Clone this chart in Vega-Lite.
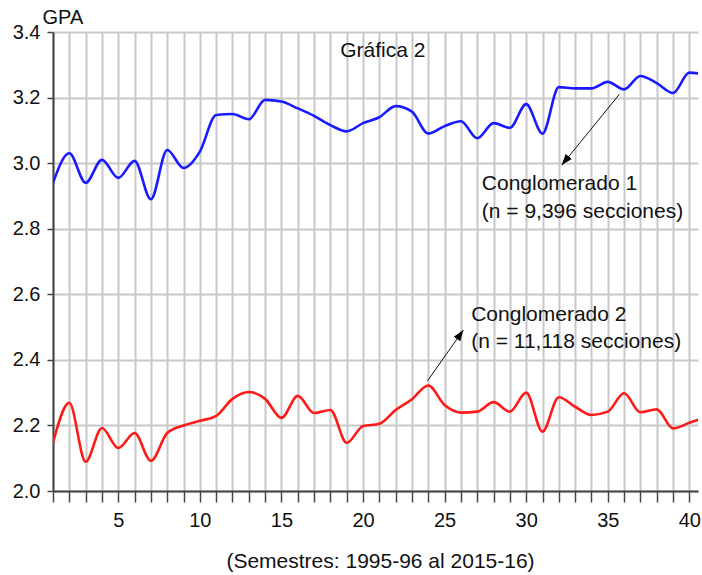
{
  "$schema": "https://vega.github.io/schema/vega-lite/v6.json",
  "width": 645,
  "height": 459,
  "autosize": {"type": "none"},
  "padding": {"left": 53, "top": 32, "right": 4, "bottom": 84},
  "background": "white",
  "config": {"font": "Liberation Sans", "view": {"stroke": null}},
  "datasets": {
    "gpa": [
      {"semestre": 1, "gpa": 2.94, "grupo": "Conglomerado 1"},
      {"semestre": 2, "gpa": 3.03, "grupo": "Conglomerado 1"},
      {"semestre": 3, "gpa": 2.94, "grupo": "Conglomerado 1"},
      {"semestre": 4, "gpa": 3.01, "grupo": "Conglomerado 1"},
      {"semestre": 5, "gpa": 2.955, "grupo": "Conglomerado 1"},
      {"semestre": 6, "gpa": 3.007, "grupo": "Conglomerado 1"},
      {"semestre": 7, "gpa": 2.89, "grupo": "Conglomerado 1"},
      {"semestre": 8, "gpa": 3.04, "grupo": "Conglomerado 1"},
      {"semestre": 9, "gpa": 2.985, "grupo": "Conglomerado 1"},
      {"semestre": 10, "gpa": 3.035, "grupo": "Conglomerado 1"},
      {"semestre": 11, "gpa": 3.147, "grupo": "Conglomerado 1"},
      {"semestre": 12, "gpa": 3.15, "grupo": "Conglomerado 1"},
      {"semestre": 13, "gpa": 3.134, "grupo": "Conglomerado 1"},
      {"semestre": 14, "gpa": 3.193, "grupo": "Conglomerado 1"},
      {"semestre": 15, "gpa": 3.188, "grupo": "Conglomerado 1"},
      {"semestre": 16, "gpa": 3.167, "grupo": "Conglomerado 1"},
      {"semestre": 17, "gpa": 3.144, "grupo": "Conglomerado 1"},
      {"semestre": 18, "gpa": 3.116, "grupo": "Conglomerado 1"},
      {"semestre": 19, "gpa": 3.097, "grupo": "Conglomerado 1"},
      {"semestre": 20, "gpa": 3.122, "grupo": "Conglomerado 1"},
      {"semestre": 21, "gpa": 3.14, "grupo": "Conglomerado 1"},
      {"semestre": 22, "gpa": 3.174, "grupo": "Conglomerado 1"},
      {"semestre": 23, "gpa": 3.157, "grupo": "Conglomerado 1"},
      {"semestre": 24, "gpa": 3.09, "grupo": "Conglomerado 1"},
      {"semestre": 25, "gpa": 3.113, "grupo": "Conglomerado 1"},
      {"semestre": 26, "gpa": 3.128, "grupo": "Conglomerado 1"},
      {"semestre": 27, "gpa": 3.076, "grupo": "Conglomerado 1"},
      {"semestre": 28, "gpa": 3.122, "grupo": "Conglomerado 1"},
      {"semestre": 29, "gpa": 3.108, "grupo": "Conglomerado 1"},
      {"semestre": 30, "gpa": 3.18, "grupo": "Conglomerado 1"},
      {"semestre": 31, "gpa": 3.09, "grupo": "Conglomerado 1"},
      {"semestre": 32, "gpa": 3.232, "grupo": "Conglomerado 1"},
      {"semestre": 33, "gpa": 3.228, "grupo": "Conglomerado 1"},
      {"semestre": 34, "gpa": 3.228, "grupo": "Conglomerado 1"},
      {"semestre": 35, "gpa": 3.248, "grupo": "Conglomerado 1"},
      {"semestre": 36, "gpa": 3.225, "grupo": "Conglomerado 1"},
      {"semestre": 37, "gpa": 3.266, "grupo": "Conglomerado 1"},
      {"semestre": 38, "gpa": 3.244, "grupo": "Conglomerado 1"},
      {"semestre": 39, "gpa": 3.214, "grupo": "Conglomerado 1"},
      {"semestre": 40, "gpa": 3.276, "grupo": "Conglomerado 1"},
      {"semestre": 41, "gpa": 3.27, "grupo": "Conglomerado 1"},
      {"semestre": 1, "gpa": 2.147, "grupo": "Conglomerado 2"},
      {"semestre": 2, "gpa": 2.269, "grupo": "Conglomerado 2"},
      {"semestre": 3, "gpa": 2.089, "grupo": "Conglomerado 2"},
      {"semestre": 4, "gpa": 2.192, "grupo": "Conglomerado 2"},
      {"semestre": 5, "gpa": 2.131, "grupo": "Conglomerado 2"},
      {"semestre": 6, "gpa": 2.177, "grupo": "Conglomerado 2"},
      {"semestre": 7, "gpa": 2.092, "grupo": "Conglomerado 2"},
      {"semestre": 8, "gpa": 2.177, "grupo": "Conglomerado 2"},
      {"semestre": 9, "gpa": 2.2, "grupo": "Conglomerado 2"},
      {"semestre": 10, "gpa": 2.214, "grupo": "Conglomerado 2"},
      {"semestre": 11, "gpa": 2.229, "grupo": "Conglomerado 2"},
      {"semestre": 12, "gpa": 2.281, "grupo": "Conglomerado 2"},
      {"semestre": 13, "gpa": 2.302, "grupo": "Conglomerado 2"},
      {"semestre": 14, "gpa": 2.281, "grupo": "Conglomerado 2"},
      {"semestre": 15, "gpa": 2.223, "grupo": "Conglomerado 2"},
      {"semestre": 16, "gpa": 2.29, "grupo": "Conglomerado 2"},
      {"semestre": 17, "gpa": 2.238, "grupo": "Conglomerado 2"},
      {"semestre": 18, "gpa": 2.247, "grupo": "Conglomerado 2"},
      {"semestre": 19, "gpa": 2.147, "grupo": "Conglomerado 2"},
      {"semestre": 20, "gpa": 2.198, "grupo": "Conglomerado 2"},
      {"semestre": 21, "gpa": 2.205, "grupo": "Conglomerado 2"},
      {"semestre": 22, "gpa": 2.247, "grupo": "Conglomerado 2"},
      {"semestre": 23, "gpa": 2.28, "grupo": "Conglomerado 2"},
      {"semestre": 24, "gpa": 2.322, "grupo": "Conglomerado 2"},
      {"semestre": 25, "gpa": 2.262, "grupo": "Conglomerado 2"},
      {"semestre": 26, "gpa": 2.239, "grupo": "Conglomerado 2"},
      {"semestre": 27, "gpa": 2.242, "grupo": "Conglomerado 2"},
      {"semestre": 28, "gpa": 2.271, "grupo": "Conglomerado 2"},
      {"semestre": 29, "gpa": 2.242, "grupo": "Conglomerado 2"},
      {"semestre": 30, "gpa": 2.3, "grupo": "Conglomerado 2"},
      {"semestre": 31, "gpa": 2.181, "grupo": "Conglomerado 2"},
      {"semestre": 32, "gpa": 2.286, "grupo": "Conglomerado 2"},
      {"semestre": 33, "gpa": 2.257, "grupo": "Conglomerado 2"},
      {"semestre": 34, "gpa": 2.232, "grupo": "Conglomerado 2"},
      {"semestre": 35, "gpa": 2.242, "grupo": "Conglomerado 2"},
      {"semestre": 36, "gpa": 2.298, "grupo": "Conglomerado 2"},
      {"semestre": 37, "gpa": 2.24, "grupo": "Conglomerado 2"},
      {"semestre": 38, "gpa": 2.249, "grupo": "Conglomerado 2"},
      {"semestre": 39, "gpa": 2.191, "grupo": "Conglomerado 2"},
      {"semestre": 40, "gpa": 2.208, "grupo": "Conglomerado 2"},
      {"semestre": 41, "gpa": 2.225, "grupo": "Conglomerado 2"}
    ],
    "etiquetas": [
      {"x": 18.6, "y": 3.324, "texto": "Gráfica 2"},
      {"x": 27.28, "y": 2.918, "texto": "Conglomerado 1"},
      {"x": 27.28, "y": 2.833, "texto": "(n = 9,396 secciones)"},
      {"x": 26.63, "y": 2.52, "texto": "Conglomerado 2"},
      {"x": 26.63, "y": 2.436, "texto": "(n = 11,118 secciones)"}
    ],
    "flechas": [
      {"id": 1, "x0": 35.71, "y0": 3.21, "x1": 32.18, "y1": 2.994},
      {"id": 2, "x0": 23.95, "y0": 2.336, "x1": 26.15, "y1": 2.491}
    ]
  },
  "layer": [
    {
      "data": {"name": "gpa"},
      "mark": {"type": "line", "interpolate": "monotone", "strokeWidth": 2.6, "clip": true},
      "encoding": {
        "x": {
          "field": "semestre", "type": "quantitative",
          "scale": {"domain": [1, 40.53], "nice": false, "zero": false},
          "axis": {
            "values": [1,2,3,4,5,6,7,8,9,10,11,12,13,14,15,16,17,18,19,20,21,22,23,24,25,26,27,28,29,30,31,32,33,34,35,36,37,38,39,40],
            "tickCount": 200,
            "format": "d",
            "labelExpr": "datum.value % 5 === 0 ? datum.label : ''",
            "grid": true, "gridColor": "#c8c8c8", "gridWidth": 2,
            "domainColor": "#444444", "domainWidth": 2,
            "tickColor": "#444444", "tickWidth": 1.5, "tickSize": 11,
            "labelFontSize": 20, "labelColor": "#111111", "labelPadding": 8,
            "labelFlush": false, "labelBound": false, "labelOverlap": false,
            "encode": {"ticks": {"update": {"y2": {"signal": "datum.value % 5 === 0 ? 11 : 6"}}}},
            "title": "(Semestres: 1995-96 al 2015-16)",
            "titleFontSize": 21, "titleFontWeight": "normal", "titleColor": "#111111",
            "titleX": 327, "titleY": 76, "titleAlign": "center", "titleBaseline": "alphabetic"
          }
        },
        "y": {
          "field": "gpa", "type": "quantitative",
          "scale": {"domain": [2.0, 3.4], "nice": false, "zero": false},
          "axis": {
            "values": [2.0, 2.2, 2.4, 2.6, 2.8, 3.0, 3.2, 3.4],
            "tickCount": 50,
            "format": ".1f",
            "grid": true, "gridColor": "#c8c8c8", "gridWidth": 2,
            "encode": {"grid": {"update": {"strokeOpacity": {"signal": "datum.value > 3.39 ? 0 : 1"}}}},
            "domainColor": "#444444", "domainWidth": 2,
            "tickColor": "#444444", "tickWidth": 1.5, "tickSize": 6,
            "labelFontSize": 20, "labelColor": "#111111", "labelPadding": 7,
            "labelFlush": false, "labelBound": false,
            "title": "GPA", "titleAngle": 0, "titleX": -11, "titleY": -9,
            "titleAlign": "left", "titleBaseline": "alphabetic",
            "titleFontSize": 20, "titleFontWeight": "normal", "titleColor": "#111111"
          }
        },
        "color": {
          "field": "grupo", "type": "nominal",
          "scale": {"domain": ["Conglomerado 1", "Conglomerado 2"], "range": ["#1a1aff", "#ff1a1a"]},
          "legend": null
        }
      }
    },
    {
      "data": {"name": "flechas"},
      "mark": {"type": "rule", "color": "#111111", "strokeWidth": 1},
      "encoding": {
        "x": {"field": "x0", "type": "quantitative"},
        "y": {"field": "y0", "type": "quantitative"},
        "x2": {"field": "x1"},
        "y2": {"field": "y1"}
      }
    },
    {
      "data": {"name": "flechas"},
      "transform": [{"filter": "datum.id === 1"}],
      "mark": {"type": "point", "shape": "M0,0L-0.36,1L0.36,1Z", "filled": true, "color": "#000000", "opacity": 1, "size": 484, "angle": 219},
      "encoding": {
        "x": {"field": "x1", "type": "quantitative"},
        "y": {"field": "y1", "type": "quantitative"}
      }
    },
    {
      "data": {"name": "flechas"},
      "transform": [{"filter": "datum.id === 2"}],
      "mark": {"type": "point", "shape": "M0,0L-0.36,1L0.36,1Z", "filled": true, "color": "#000000", "opacity": 1, "size": 484, "angle": 35},
      "encoding": {
        "x": {"field": "x1", "type": "quantitative"},
        "y": {"field": "y1", "type": "quantitative"}
      }
    },
    {
      "data": {"name": "etiquetas"},
      "mark": {"type": "text", "align": "left", "baseline": "alphabetic", "fontSize": 21, "color": "#111111"},
      "encoding": {
        "x": {"field": "x", "type": "quantitative"},
        "y": {"field": "y", "type": "quantitative"},
        "text": {"field": "texto"}
      }
    }
  ]
}
